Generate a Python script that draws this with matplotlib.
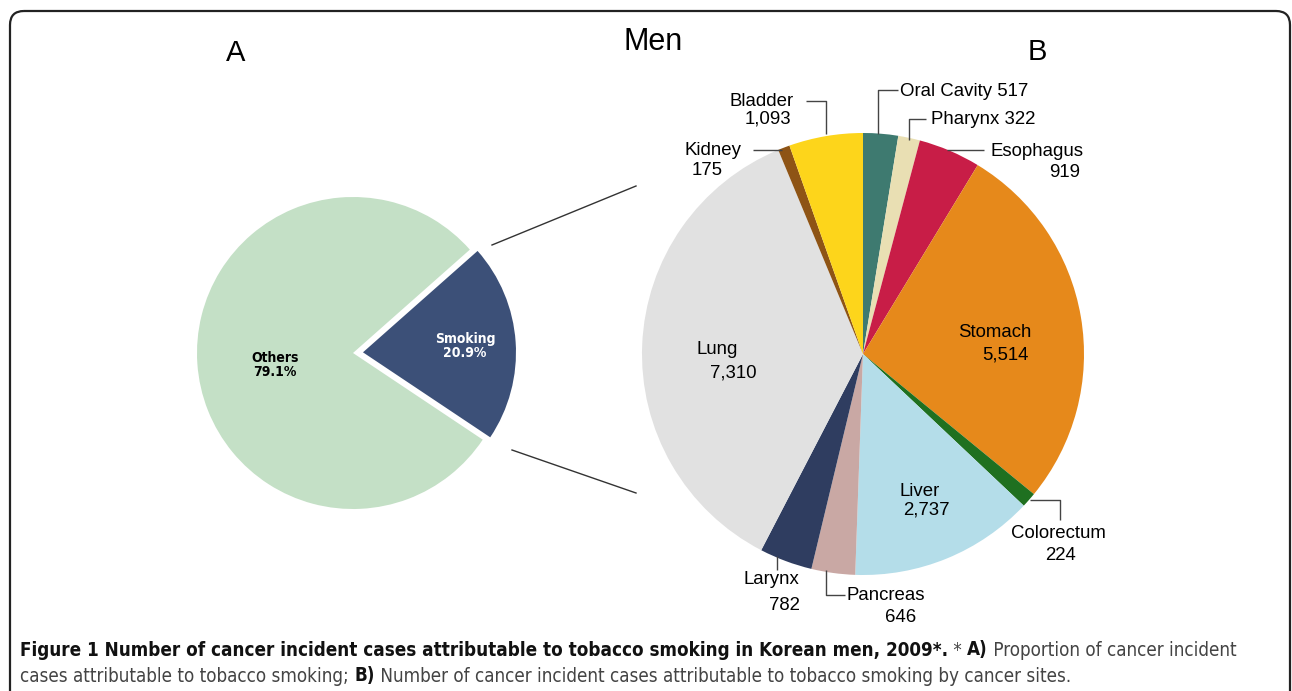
import matplotlib
matplotlib.use("Agg")
import matplotlib.pyplot as plt
from matplotlib.patches import FancyBboxPatch

W, H = 1292, 691

# panel A: share of incident cases
share_labels = ["Smoking", "Others"]
share_values = [20.9, 79.1]

# panel B: cases by site, clockwise from 12 o'clock
sites = ["Oral Cavity", "Pharynx", "Esophagus", "Stomach", "Colorectum", "Liver",
         "Pancreas", "Larynx", "Lung", "Kidney", "Bladder"]
cases = [517, 322, 919, 5514, 224, 2737, 646, 782, 7310, 175, 1093]
site_colors = ["#3E7A70", "#E9DFB3", "#C81D47", "#E6891B", "#1F7020", "#B4DDE9",
               "#C9A8A4", "#2F3D60", "#E1E1E1", "#8E5415", "#FDD51B"]

# label placement (pixels): name centre, value centre, leader path
label_pos = {
    "Oral Cavity": ((900, 91, "left"), None, [(878, 134), (878, 90), (898, 90)]),
    "Pharynx": ((931, 119, "left"), None, [(909, 140), (909, 119), (926, 119)]),
    "Esophagus": ((1037, 151, "center"), (1065, 172), [(947, 150), (984, 150)]),
    "Stomach": ((995, 332, "center"), (1005, 355), None),
    "Colorectum": ((1058, 534, "center"), (1060, 556), [(1030, 500), (1060, 500), (1060, 520)]),
    "Liver": ((920, 491, "center"), (926, 510), None),
    "Pancreas": ((886, 596, "center"), (901, 617), [(826, 570), (826, 595), (845, 595)]),
    "Larynx": ((771, 580, "center"), (784, 605), [(777, 556), (777, 570)]),
    "Lung": ((717, 349, "center"), (733, 373), None),
    "Kidney": ((713, 150, "center"), (707, 170), [(782, 150), (753, 150)]),
    "Bladder": ((762, 101, "center"), (768, 119), [(826, 134), (826, 101), (806, 101)]),
}

plt.rcParams['font.family'] = ['Liberation Sans', 'DejaVu Sans']

fig = plt.figure(figsize=(W / 100, H / 100), dpi=100)
ax = fig.add_axes([0, 0, 1, 1])

# A: y axis is inverted below, so counterclock=True reads clockwise on screen
# (explode is in data units here, i.e. pixels)
wedges_a, _ = ax.pie(share_values, colors=["#3C5078", "#C4E0C6"], startangle=-41.5,
                     counterclock=True, center=(353, 353), radius=156,
                     explode=[10, 0], frame=True, wedgeprops=dict(linewidth=0))
wedges_a[0].set_radius(153)
lab_kw = dict(ha="center", va="center", fontsize=10, fontweight="bold",
              family="DejaVu Sans", fontstretch="condensed", linespacing=1.0)
ax.text(465, 346, f"{share_labels[0]}\n{share_values[0]}%", color="white", **lab_kw)
ax.text(275, 365, f"{share_labels[1]}\n{share_values[1]}%", color="black", **lab_kw)

# B
ax.pie(cases, colors=site_colors, startangle=-90, counterclock=True,
       center=(863, 354), radius=221, frame=True, wedgeprops=dict(linewidth=0))

for site, n in zip(sites, cases):
    name_xy, val_xy, leader = label_pos[site]
    val = f"{n:,}"
    if val_xy is None:
        ax.text(name_xy[0], name_xy[1], f"{site} {val}", ha=name_xy[2], va="center",
                fontsize=13.4)
    else:
        ax.text(name_xy[0], name_xy[1], site, ha=name_xy[2], va="center", fontsize=13.4)
        ax.text(val_xy[0], val_xy[1], val, ha="center", va="center", fontsize=13.4)
    if leader:
        xs, ys = zip(*leader)
        ax.plot(xs, ys, color="#444444", lw=1.0, solid_capstyle="butt")

# zoom lines from A to B
ax.plot([492, 636], [245, 186], color="#333333", lw=1.0)
ax.plot([512, 636], [450, 493], color="#333333", lw=1.0)

ax.text(653, 42, "Men", ha="center", va="center", fontsize=22)
ax.text(236, 53, "A", ha="center", va="center", fontsize=21)
ax.text(1037, 52, "B", ha="center", va="center", fontsize=21)

# outer rounded frame (bottom runs off the image)
ax.add_patch(FancyBboxPatch((10, 11), 1280, 720,
                            boxstyle="round,pad=0,rounding_size=14",
                            fill=False, edgecolor="#222222", lw=1.6))

ax.set_xlim(0, W)
ax.set_ylim(H, 0)
ax.set_aspect("equal", adjustable="box")
ax.axis("off")

# caption: mixed bold / regular runs
cap_kw = dict(family="DejaVu Sans", fontstretch="condensed")
renderer = fig.canvas.get_renderer()


def run_width(s, size, bold):
    kw = dict(fontsize=size, fontweight="bold" if bold else "normal", **cap_kw)
    t1 = ax.text(0, 0, "|" + s + "|", **kw)
    t2 = ax.text(0, 0, "||", **kw)
    w = t1.get_window_extent(renderer).width - t2.get_window_extent(renderer).width
    t1.remove()
    t2.remove()
    return w


line1 = [("Figure 1 Number of cancer incident cases attributable to tobacco smoking in Korean men, 2009*.", True),
         (" * ", False), ("A)", True), (" Proportion of cancer incident", False)]
line2 = [("cases attributable to tobacco smoking; ", False), ("B)", True),
         (" Number of cancer incident cases attributable to tobacco smoking by cancer sites.", False)]

base = 10
total = sum(run_width(s, base, b) for s, b in line1)
cap_size = base * 1210 / total

for y, parts in [(650, line1), (676, line2)]:
    x = 20
    for s, b in parts:
        ax.text(x, y, s, ha="left", va="center", fontsize=cap_size,
                fontweight="bold" if b else "normal",
                color="#111111" if b else "#444444", **cap_kw)
        x += run_width(s, cap_size, b)

fig.savefig("out.png", dpi=100)
